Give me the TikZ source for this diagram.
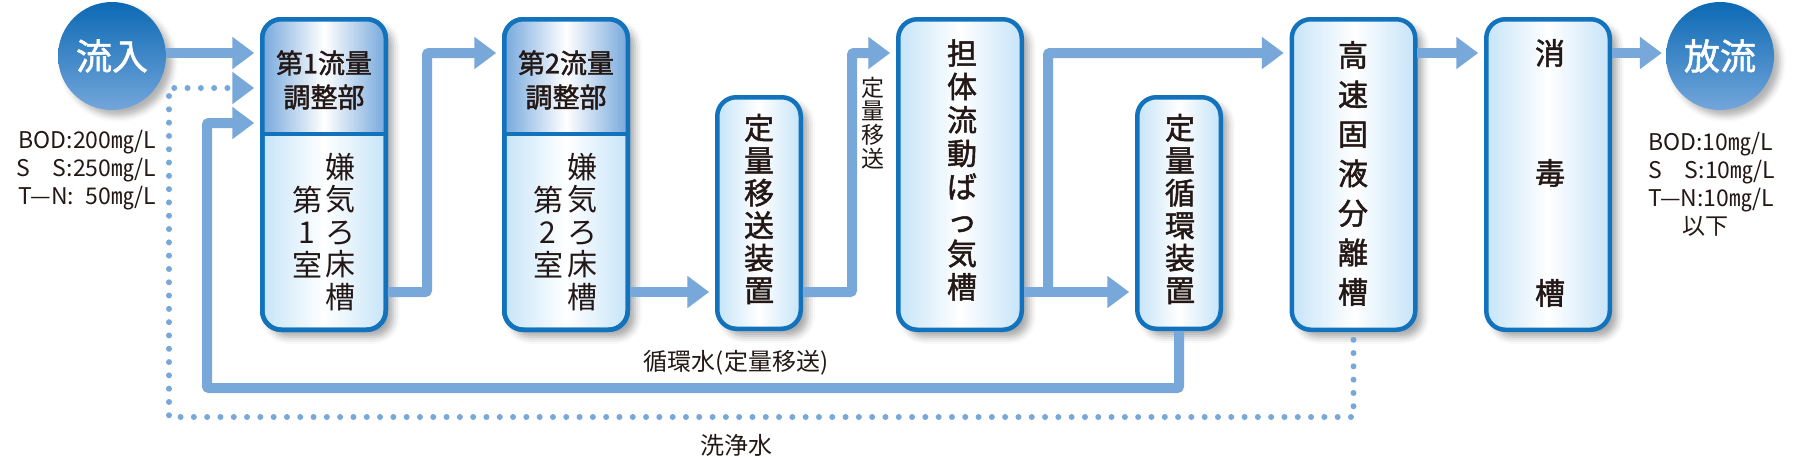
\documentclass[tikz,border=0pt]{standalone}
\usepackage{fontspec}
\setmainfont{Noto Sans CJK JP}[BoldFont={Noto Sans CJK JP},BoldFeatures={FakeBold=1.6}]
\usetikzlibrary{arrows.meta,calc,shadows.blur}
\definecolor{flowBlue}{HTML}{78A8DA}
\definecolor{rimBlue}{HTML}{1273BC}
\definecolor{paleBlue}{HTML}{C6E4F8}
\definecolor{headBlue}{HTML}{76A8DC}
\definecolor{discTop}{HTML}{0C69B3}
\definecolor{discBot}{HTML}{73A6DB}
\definecolor{inkP}{HTML}{231815}

\begin{document}
\begin{tikzpicture}[x=1pt,y=-1pt,
  flow/.style={flowBlue,line width=10pt,rounded corners=2pt,
    -{Triangle[length=22pt,width=31pt]},shorten <=2.2pt,shorten >=8pt},
  wash/.style={flowBlue,line width=6pt,line cap=round,dash pattern=on 0pt off 13.3pt,
    -{Triangle[length=22pt,width=31pt]},shorten >=8pt},
  tank/.style={draw=rimBlue,line width=4.5pt,rounded corners=19pt,outer sep=0pt,inner sep=0pt,
    left color=paleBlue,right color=paleBlue,middle color=white,
    blur shadow={shadow xshift=7pt,shadow yshift=-7pt,shadow blur radius=7pt,shadow opacity=35}},
  bigtank/.style={tank,minimum width=123.5pt,minimum height=310.5pt},
  smalltank/.style={tank,minimum width=83.5pt,minimum height=231.5pt},
  endDisc/.style={circle,minimum size=108pt,inner sep=0pt,top color=discTop,bottom color=discBot,
    text=white,font=\fontsize{36}{36}\selectfont\bfseries,
    blur shadow={shadow xshift=6pt,shadow yshift=-6pt,shadow blur radius=6pt,shadow opacity=30}},
  headText/.style={text=inkP,align=center,inner sep=0pt,font=\fontsize{27}{34}\selectfont\bfseries},
  colText/.style={text=inkP,align=center,inner sep=0pt,font=\fontsize{30}{32.5}\selectfont},
  tankText/.style={colText,font=\fontsize{30}{32.5}\selectfont\bfseries},
  note/.style={text=inkP,inner sep=0pt,font=\fontsize{24}{24}\selectfont},
  spec/.style={text=inkP,inner sep=0pt,font=\fontsize{23}{28}\selectfont}]
  \useasboundingbox (0,0) rectangle (1800,456);
  \coordinate (lvtop) at (0,53);
  \coordinate (lvwash) at (0,88);
  \coordinate (lvret) at (0,123);
  \coordinate (lvhead) at (0,134);
  \coordinate (lvlow) at (0,292);
  \coordinate (jA) at (427,53);
  \coordinate (jB) at (852,53);
  \coordinate (jC) at (1048,53);
  \coordinate (rc) at (207,388);
  \coordinate (wc) at (169,417);

  \node[endDisc] (inlet) at (112,56) {流入};
  \node[endDisc] (outlet) at (1720,56) {放流};
  \node[bigtank] (eq1) at (324,174.5) {};
  \node[bigtank] (eq2) at (566,174.5) {};
  \node[smalltank] (mv) at (759,213) {};
  \node[bigtank] (bio) at (960,174.5) {};
  \node[smalltank] (cir) at (1179,213) {};
  \node[bigtank] (sep) at (1353.5,174.5) {};
  \node[bigtank] (dis) at (1548,174.5) {};
  \foreach \t in {eq1,eq2}{
    \begin{scope}
      \clip[rounded corners=19pt] (\t.north west) rectangle (\t.south east);
      \shade[left color=headBlue,right color=headBlue,middle color=white]
        (\t.north west) rectangle (\t.east |- lvhead);
    \end{scope}
    \draw[rimBlue,line width=4.5pt] (\t.west |- lvhead) -- (\t.east |- lvhead);
    \draw[rimBlue,line width=4.5pt,rounded corners=19pt] (\t.north west) rectangle (\t.south east);
  }

  \node[headText] (eq1h) at (324,80) {第1流量\\調整部};
  \node[headText] (eq2h) at (566,80) {第2流量\\調整部};
  \node[colText] (eq1a) at (340,232) {嫌\\気\\ろ\\床\\槽};
  \node[colText] (eq1b) at (307,232) {第\\1\\室};
  \node[colText] (eq2a) at (582,232) {嫌\\気\\ろ\\床\\槽};
  \node[colText] (eq2b) at (548,232) {第\\2\\室};
  \node[tankText] (mvt) at (759,209) {定\\量\\移\\送\\装\\置};
  \node[tankText,font=\fontsize{30}{33.4}\selectfont\bfseries] (biot) at (962,170) {担\\体\\流\\動\\ば\\っ\\気\\槽};
  \node[tankText] (cirt) at (1180,209) {定\\量\\循\\環\\装\\置};
  \node[tankText,font=\fontsize{30}{39.5}\selectfont\bfseries] (sept) at (1353,173.5) {高\\速\\固\\液\\分\\離\\槽};
  \node[tankText,font=\fontsize{30}{120}\selectfont\bfseries] (dist) at (1550,173) {消\\毒\\槽};

  \node[spec,align=right,anchor=east] (inq) at (156,170) {BOD:200㎎/L\\S　S:250㎎/L\\T—N:\enspace50㎎/L};
  \node[spec,align=left,anchor=west] (outq) at (1648,184) {BOD:10㎎/L\\S　S:10㎎/L\\T—N:10㎎/L\\\hspace*{34pt}以下};
  \node[note] (retl) at (736,363) {循環水(定量移送)};
  \node[note] (washl) at (736,445) {洗浄水};
  \node[note,align=center,font=\fontsize{23}{23.7}\selectfont] (mvl) at (873,123) {定\\量\\移\\送};

  \draw[flow,shorten <=0pt] (inlet.east |- lvtop) -- (eq1.west |- lvtop);
  \draw[flow] (eq1.east |- lvlow) -| (jA) -- (eq2.west |- jA);
  \draw[flow] (eq2.east |- lvlow) -- (mv.west |- lvlow);
  \draw[flow] (mv.east |- lvlow) -| (jB) -- (bio.west |- jB);
  \draw[flow] (bio.east |- lvlow) -- (cir.west |- lvlow);
  \draw[flow,shorten <=0pt] (jC |- lvlow) -- (jC) -- (sep.west |- jC);
  \draw[flow] (sep.east |- lvtop) -- (dis.west |- lvtop);
  \draw[flow,shorten >=4pt] (dis.east |- lvtop) -- (outlet.west |- lvtop);
  \draw[flow] (cir.south) |- (rc) |- (eq1.west |- lvret);
  \draw[wash,shorten <=10pt] (sep.south) |- (wc) |- (eq1.west |- lvwash);
\end{tikzpicture}
\end{document}
